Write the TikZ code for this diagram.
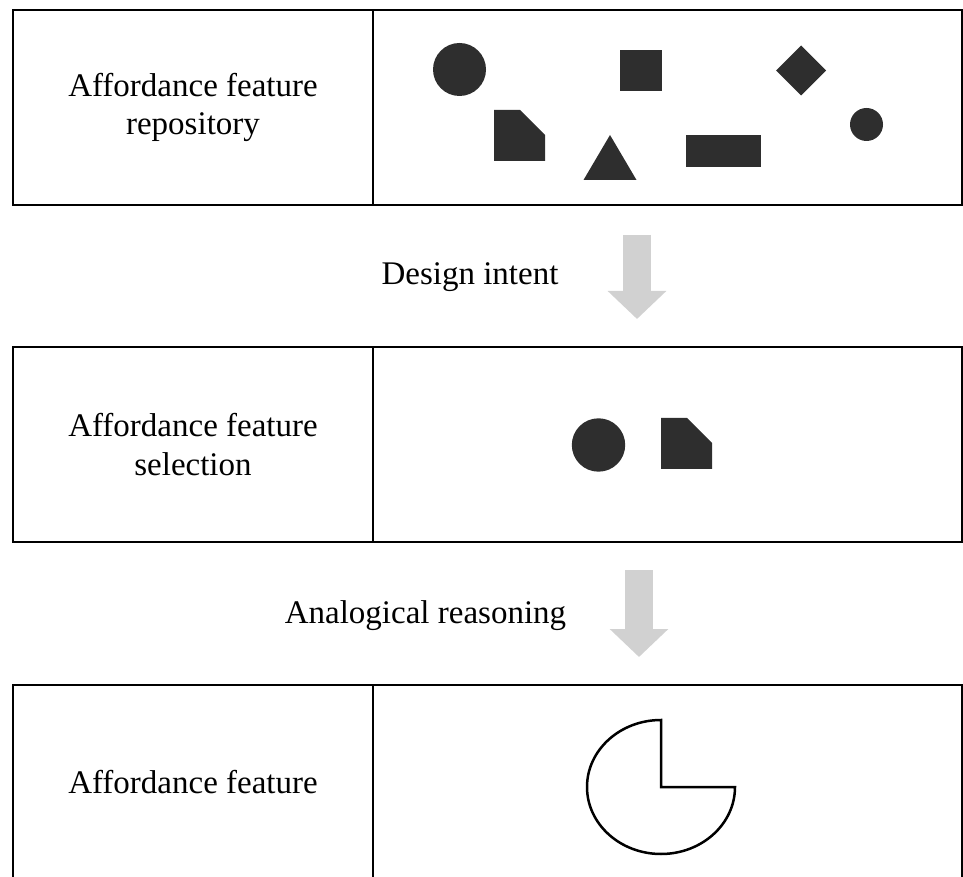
\documentclass[tikz,border=0pt]{standalone}
\usepackage{fontspec}
\setmainfont{Liberation Serif}
\usetikzlibrary{arrows.meta}
\definecolor{darkShape}{RGB}{46, 46, 46}
\definecolor{lightArrow}{RGB}{209, 209, 209}

\begin{document}
\begin{tikzpicture}[x=1pt, y=1pt,
  cell/.style={rectangle, draw=black, line width=2.5pt, minimum height=195pt,
    inner sep=0pt, align=center, font=\fontsize{33}{38.5}\selectfont},
  leftcell/.style={cell, minimum width=360pt},
  rightcell/.style={cell, minimum width=589pt},
  caption/.style={anchor=base, inner sep=0pt, font=\fontsize{33}{38.5}\selectfont},
  shp/.style={fill=darkShape},
  flow/.style={-{Triangle[length=28pt, width=57pt]}, line width=28pt,
    draw=lightArrow},
  pie/.style={draw=black, line width=2.5pt, line join=miter},
]
\clip (0, 0) rectangle (963, 876);

% three rows: label cell | feature cell
\node[leftcell]  (repoLabel)  at (193, 768.5) {Affordance feature\\repository};
\node[rightcell] (repoShapes) at (667.5, 768.5) {};
\node[leftcell]  (selLabel)   at (193, 431.5) {Affordance feature\\selection};
\node[rightcell] (selShapes)  at (667.5, 431.5) {};
\node[leftcell]  (featLabel)  at (193, 93.5) {Affordance feature};
\node[rightcell] (featShape)  at (667.5, 93.5) {};

% transitions
\node[caption] (intentText) at (470, 591) {Design intent};
\node[caption] (reasonText) at (425.5, 253) {Analogical reasoning};
\coordinate (intentTop) at (637, 641);
\coordinate (intentTip) at (637, 557);
\coordinate (reasonTop) at (639, 306);
\coordinate (reasonTip) at (639, 219);
\draw[flow] (intentTop) -- (intentTip);
\draw[flow] (reasonTop) -- (reasonTip);

% repository shapes
\fill[shp] (459.5, 806.5) circle[radius=26.5];
\fill[shp] (620, 785) rectangle (662, 826);
\fill[shp] (776, 805.5) -- (801, 830.5) -- (826, 805.5) -- (801, 780.5) -- cycle;
\fill[shp] (866.5, 751.5) circle[radius=16.5];
\fill[shp] (610, 741) -- (636.5, 696) -- (583.5, 696) -- cycle;
\fill[shp] (686, 709) rectangle (761, 741);

% selection shapes
\fill[shp] (598.5, 431) circle[radius=26.7];
\foreach \px/\py in {494/715, 661/407}
  \fill[shp] (\px, \py) -- ++(0, 51) -- ++(26, 0) -- ++(25, -25)
    -- ++(0, -26) -- cycle;

% resulting feature
\draw[pie] (661, 89) -- (661, 156)
  arc[start angle=90, end angle=360, x radius=74, y radius=67] -- cycle;
\end{tikzpicture}
\end{document}
